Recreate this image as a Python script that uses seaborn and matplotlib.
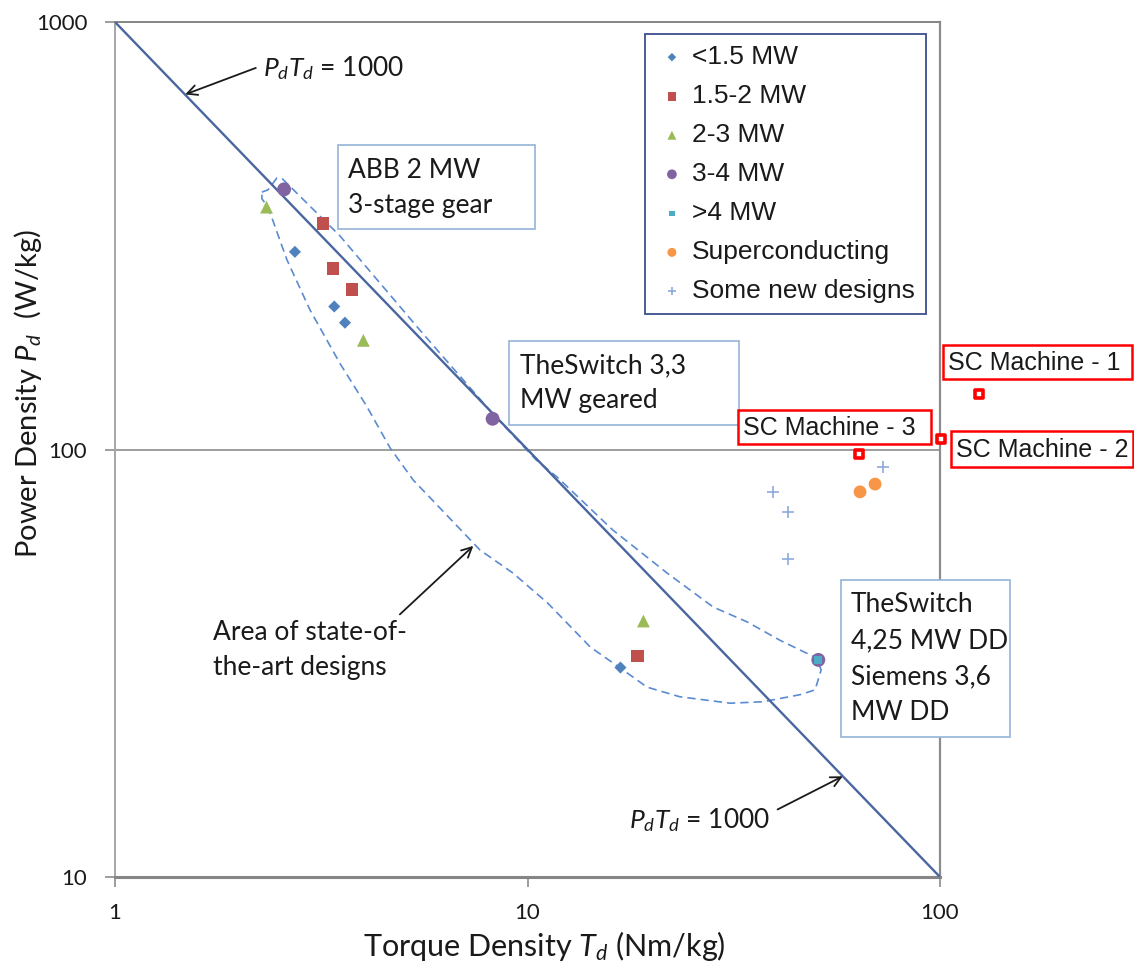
import numpy as np
import pandas as pd
import matplotlib
matplotlib.use('Agg')
import matplotlib.pyplot as plt
from matplotlib.patches import Rectangle
import seaborn as sns

# ==================== 数据 ====================
# 扭矩密度 Td (Nm/kg), 功率密度 Pd (W/kg)
lt15_td = [2.73, 3.40, 3.61, 16.8]
lt15_pd = [290, 216, 198, 30.9]
mw15_2_td = [3.19, 3.38, 3.75, 18.5]
mw15_2_pd = [338, 265, 237, 32.9]
mw2_3_td = [2.33, 4.0, 19.1]
mw2_3_pd = [369, 180, 39.7]
mw3_4_td = [2.57, 8.23, 50.7]
mw3_4_pd = [406, 118, 32.2]
gt4_td = [50.7]
gt4_pd = [32.2]
sc_td = [64.0, 69.6]
sc_pd = [79.6, 83.0]
new_td = [39.3, 42.7, 42.7, 72.6]
new_pd = [79.6, 71.3, 55.3, 90.8]

scm_names = ['SC Machine - 1', 'SC Machine - 2', 'SC Machine - 3']
scm_td = [124.3, 100.4, 63.6]
scm_pd = [135, 106, 97.6]

# Pd*Td = 1000
line_td = [1, 100]
line_pd = [1000, 10]

# 现有设计区域轮廓 (虚线)
region_td = [2.27, 2.35, 2.47, 2.55, 3.51, 5.49, 8.25, 10.5, 11.8, 16.1, 21.8,
             28.2, 34.1, 40.9, 50.3, 51.5, 49.8, 45.8, 37.2, 31.0, 23.4, 19.5,
             16.8, 14.2, 11.2, 9.22, 7.67, 5.28, 4.64, 4.08, 3.51, 2.97, 2.61,
             2.35, 2.27, 2.27]
region_pd = [400, 405, 432, 429, 316, 190, 121, 94.5, 86.2, 64.8, 51.4,
             42.8, 39.5, 35.8, 32.5, 30.5, 27.4, 26.7, 25.7, 25.5, 26.4, 27.8,
             30.8, 34.5, 43.7, 51.4, 58.2, 84.9, 101, 126, 159, 212, 278,
             369, 386, 400]

# ==================== 风格 ====================
sns.set_theme(style='white')
plt.rcParams['font.family'] = ['Lato', 'DejaVu Sans']
plt.rcParams['mathtext.fontset'] = 'custom'
plt.rcParams['mathtext.rm'] = 'Lato'
plt.rcParams['mathtext.it'] = 'Lato:italic'
TXT = '#1a1a1a'

W, H = 1134, 963
fig = plt.figure(figsize=(W / 100, H / 100), dpi=100)
ax = fig.add_axes([115 / W, 1 - 877 / H, 825 / W, 855 / H])
ax.set(xscale='log', yscale='log')


def fpos(px, py):
    """像素坐标(左上原点) -> figure fraction"""
    return px / W, 1 - py / H


def fig_box(x0, y0, x1, y1, ec, lw=1.2):
    fig.add_artist(Rectangle((x0 / W, 1 - y1 / H), (x1 - x0) / W, (y1 - y0) / H,
                             transform=fig.transFigure, fc='white', ec=ec, lw=lw,
                             zorder=3))


# 区域与参考线
sns.lineplot(x=region_td, y=region_pd, sort=False, estimator=None, ax=ax,
             color='#5b8bd0', lw=1.2, linestyle=(0, (5, 3)), zorder=2)
sns.lineplot(x=line_td, y=line_pd, ax=ax, color='#4a66a0', lw=1.7, zorder=3)

# 各功率等级散点
sns.scatterplot(x=lt15_td, y=lt15_pd, marker='D', s=38, color='#4F81BD',
                edgecolor='none', label='<1.5 MW', ax=ax, zorder=4)
sns.scatterplot(x=mw15_2_td, y=mw15_2_pd, marker='s', s=80, color='#C0504D',
                edgecolor='none', label='1.5-2 MW', ax=ax, zorder=4)
sns.scatterplot(x=mw2_3_td, y=mw2_3_pd, marker='^', s=85, color='#9BBB59',
                edgecolor='none', label='2-3 MW', ax=ax, zorder=4)
sns.scatterplot(x=mw3_4_td, y=mw3_4_pd, marker='o', s=100, color='#8064A2',
                edgecolor='none', label='3-4 MW', ax=ax, zorder=4)
sns.scatterplot(x=gt4_td, y=gt4_pd, marker='s', s=32, color='#4BACC6',
                edgecolor='none', label='>4 MW', ax=ax, zorder=5)
sns.scatterplot(x=sc_td, y=sc_pd, marker='o', s=85, color='#F79646',
                edgecolor='none', label='Superconducting', ax=ax, zorder=4)
sns.scatterplot(x=new_td, y=new_pd, marker='+', s=70, color='#8ea9db',
                linewidth=1.2, label='Some new designs', ax=ax, zorder=4)
sns.scatterplot(x=scm_td, y=scm_pd, marker='s', s=30, facecolor='white',
                edgecolor='#ff0000', linewidth=2.6, ax=ax, zorder=6,
                clip_on=False, legend=False)

# 坐标轴
ax.set_xlim(1, 100)
ax.set_ylim(10, 1000)
ax.set_xticks([1, 10, 100], ['1', '10', '100'])
ax.set_yticks([10, 100, 1000], ['10', '100', '1000'])
ax.minorticks_off()
ax.tick_params(axis='both', which='major', direction='out', length=7, width=1.2,
               color='#8c8c8c', labelsize=16, labelcolor=TXT, pad=13,
               bottom=True, left=True)
ax.tick_params(axis='x', pad=12)
ax.grid(axis='y', color='#8c8c8c', lw=1.2)
ax.grid(axis='x', visible=False)
for side, c, w in [('left', '#a6a6a6', 1.4), ('bottom', '#868686', 2.2),
                   ('top', '#868686', 1.4), ('right', '#8c8c8c', 1.6)]:
    ax.spines[side].set_color(c)
    ax.spines[side].set_linewidth(w)

ax.set_xlabel('Torque Density $T_d$ (Nm/kg)', fontsize=22, color=TXT)
ax.set_ylabel('Power Density $P_d$  (W/kg)', fontsize=21, color=TXT)
ax.xaxis.set_label_coords(0.52, -0.061)
ax.yaxis.set_label_coords(-0.086, 0.566)

# 图例
handles, labels = ax.get_legend_handles_labels()
leg = ax.legend(handles, labels, loc='upper left',
                bbox_to_anchor=fpos(645, 34), bbox_transform=fig.transFigure,
                prop={'family': 'Liberation Sans', 'size': 19},
                frameon=True, fancybox=False, edgecolor='#3c4f8c',
                framealpha=1, borderpad=0.42, handlelength=1.2,
                handletextpad=0.15, labelspacing=0.57, markerscale=0.7,
                borderaxespad=0)
leg.get_frame().set_linewidth(1.3)
for t in leg.get_texts():
    t.set_color(TXT)

# 注释框
fig_box(338, 145, 535, 229, '#95b3d7')
fig.text(*fpos(348, 188), 'ABB 2 MW\n3-stage gear', ha='left', va='center',
         fontsize=19, linespacing=1.5, color=TXT, zorder=4)
fig_box(509, 341, 739, 425, '#95b3d7')
fig.text(*fpos(520, 383), 'TheSwitch 3,3\nMW geared', ha='left', va='center',
         fontsize=19, linespacing=1.5, color=TXT, zorder=4)
fig_box(841, 580, 1010, 737, '#95b3d7')
fig.text(*fpos(851, 659), 'TheSwitch\n4,25 MW DD\nSiemens 3,6\nMW DD',
         ha='left', va='center', fontsize=19, linespacing=1.55, color=TXT, zorder=4)

# SC 电机标签
for (x0, y0, x1, y1), name in zip([(943, 345, 1132, 379), (951, 431, 1133, 467),
                                    (738, 410, 931, 444)], scm_names):
    fig_box(x0, y0, x1, y1, '#ff0000', lw=1.8)
    fig.text(*fpos(x0 + 5, (y0 + y1) / 2 + 1), name, ha='left', va='center',
             family='Liberation Sans', fontsize=18, color=TXT, zorder=4)

# 箭头标注
arrow = dict(arrowstyle='->', color=TXT, lw=1.3, mutation_scale=18, shrinkA=3,
             shrinkB=0)
ax.annotate('$P_dT_d$ = 1000', xy=(1.48, 677), xycoords='data',
            xytext=fpos(263, 68), textcoords='figure fraction',
            ha='left', va='center', fontsize=19, color=TXT,
            arrowprops=dict(arrow, relpos=(0, 0.6)))
ax.annotate('$P_dT_d$ = 1000', xy=(58.1, 17.2), xycoords='data',
            xytext=fpos(700, 820), textcoords='figure fraction',
            ha='center', va='center', fontsize=19, color=TXT,
            arrowprops=dict(arrow, relpos=(1, 0.75)))
ax.annotate('Area of state-of-\nthe-art designs', xy=(7.39, 59.5), xycoords='data',
            xytext=fpos(213, 650), textcoords='figure fraction',
            ha='left', va='center', fontsize=19, linespacing=1.45, color=TXT,
            arrowprops=dict(arrow, relpos=(0.93, 1.0)))

fig.savefig('out.png', dpi=100)
